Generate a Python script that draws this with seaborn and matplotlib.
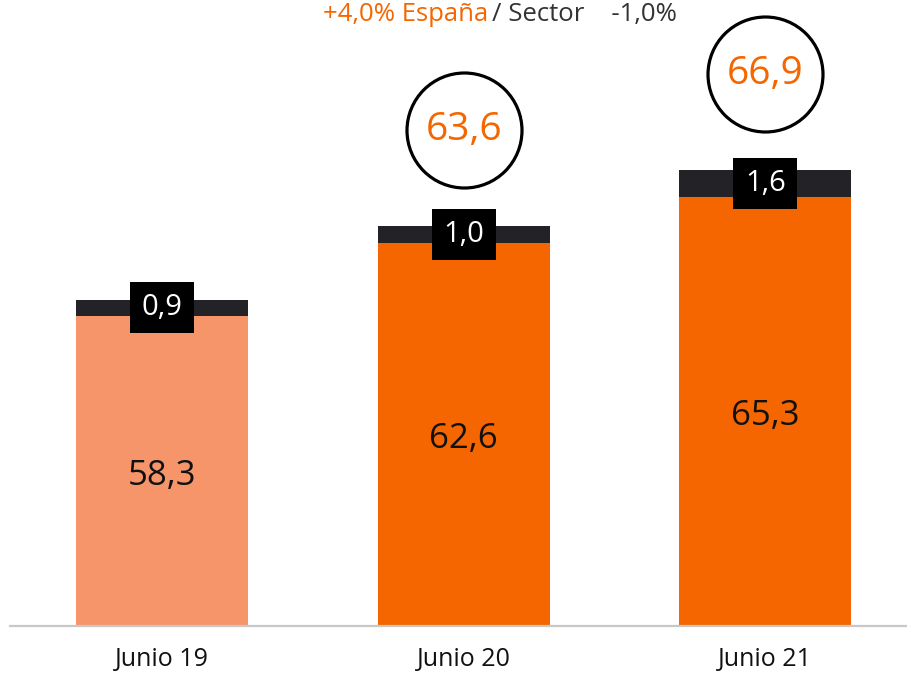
import matplotlib
matplotlib.use("Agg")
import matplotlib.pyplot as plt
from matplotlib.patches import Rectangle
import seaborn as sns
import pandas as pd

periods = ["Junio 19", "Junio 20", "Junio 21"]
base_values = [58.3, 62.6, 65.3]
extra_values = [0.9, 1.0, 1.6]
base_labels = ["58,3", "62,6", "65,3"]
extra_labels = ["0,9", "1,0", "1,6"]
total_labels = [None, "63,6", "66,9"]
bar_colors = ["#F7956A", "#F56600", "#F56600"]
dark_color = "#222227"
orange = "#F56600"

sns.set_theme(style="white")
plt.rcParams['font.family'] = ['Open Sans', 'DejaVu Sans']

df = pd.DataFrame({
    "period": periods,
    "base": base_values,
    "extra": extra_values,
})
df["total"] = df["base"] + df["extra"]

fig = plt.figure(figsize=(9.07, 6.73), dpi=100)
ax = fig.add_axes([10 / 907, 47 / 673, 897 / 907, 626 / 673])

sns.barplot(data=df, x="period", y="total", color=dark_color, width=0.57,
            ax=ax, saturation=1, errorbar=None, linewidth=0)
sns.barplot(data=df, x="period", y="base", hue="period", palette=bar_colors,
            width=0.57, ax=ax, saturation=1, errorbar=None, legend=False,
            linewidth=0)

ymin = 40
ax.set_ylim(ymin, 76.9)
ax.set_xlim(-0.505, 2.47)

for i, row in df.iterrows():
    # base value label
    ax.text(i, (ymin + row["base"]) / 2 - 0.3, base_labels[i], ha="center",
            va="center", fontsize=25, color="#111111")
    # black box with extra value
    cy = row["base"] + row["extra"] / 2
    bw, bh = 0.212, 3.0
    ax.add_patch(Rectangle((i - bw / 2, cy - bh / 2), bw, bh, facecolor="black",
                           edgecolor="none", zorder=5))
    ax.text(i, cy, extra_labels[i], ha="center", va="center", fontsize=21,
            color="white", zorder=6)
    # circle with total
    if total_labels[i] is not None:
        cyc = row["total"] + 5.65
        ax.scatter([i], [cyc], s=(115 * 0.72) ** 2, facecolor="white",
                   edgecolor="black", linewidth=2.3, zorder=7, clip_on=False)
        ax.text(i, cyc, total_labels[i], ha="center", va="center", fontsize=28,
                color=orange, zorder=8)

for s in ["top", "right", "left"]:
    ax.spines[s].set_visible(False)
ax.spines["bottom"].set_color("#C8C8C8")
ax.spines["bottom"].set_linewidth(1.6)
ax.set_yticks([])
ax.set_xlabel("")
ax.set_ylabel("")
ax.tick_params(axis="x", length=0, pad=15, labelsize=18, labelcolor="#111111")

fig.text(488 / 907, 1 - 21 / 673, "+4,0% España", ha="right", va="baseline",
         fontsize=18.5, color=orange)
fig.text(492 / 907, 1 - 21 / 673, "/ Sector    -1,0%", ha="left", va="baseline",
         fontsize=18.5, color="#333333")

fig.savefig("out.png", dpi=100)
